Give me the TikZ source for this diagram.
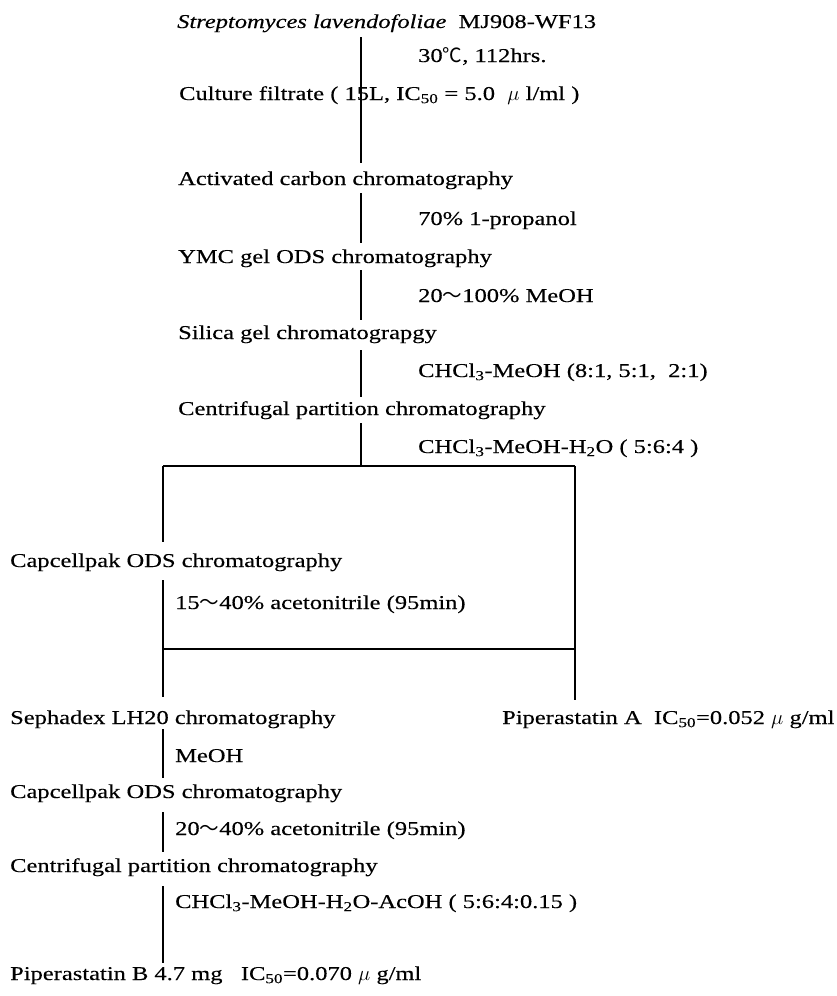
\documentclass[tikz,border=0pt]{standalone}
\usepackage{fontspec}
\setmainfont{Liberation Serif}[FakeStretch=1.25,FakeBold=0.3]
\newfontfamily\cjk{Noto Sans CJK JP}
\begin{document}
\begin{tikzpicture}[x=1pt,y=-1pt,
  txt/.style={anchor=base west,inner sep=0pt,text height=13pt,text depth=4pt,
    font=\fontsize{19.6}{24}\selectfont},
  ln/.style={line width=1.4pt,black}]
\useasboundingbox (0,0) rectangle (836,996);
% upper column
\node[txt] (strep) at (177,28) {\textit{Streptomyces lavendofoliae}\ \ MJ908-WF13};
\node[txt] (c1) at (418,62) {30{\cjk ℃}, 112hrs.};
\node[txt] (cf) at (179,100) {Culture filtrate ( 15L, IC\textsubscript{50} = 5.0 \ $\mu$ l/ml )};
\node[txt] (act) at (178,185) {Activated carbon chromatography};
\node[txt] (c2) at (418,225) {70\% 1-propanol};
\node[txt] (ymc) at (178,263) {YMC gel ODS chromatography};
\node[txt] (c3) at (418,302) {20{\cjk ～}100\% MeOH};
\node[txt] (sil) at (178,339) {Silica gel chromatograpgy};
\node[txt] (c4) at (418,377) {CHCl\textsubscript{3}-MeOH (8:1, 5:1, \ 2:1)};
\node[txt] (cpc) at (178,415) {Centrifugal partition chromatography};
\node[txt] (c5) at (418,453) {CHCl\textsubscript{3}-MeOH-H\textsubscript{2}O ( 5:6:4 )};
% lower part
\node[txt] (cap1) at (10,567) {Capcellpak ODS chromatography};
\node[txt] (c6) at (175,609) {15{\cjk ～}40\% acetonitrile (95min)};
\node[txt] (seph) at (10,724) {Sephadex LH20 chromatography};
\node[txt] (pipa) at (502,724) {Piperastatin A\ \ IC\textsubscript{50}=0.052 $\mu$ g/ml};
\node[txt] (c7) at (175,762) {MeOH};
\node[txt] (cap2) at (10,798) {Capcellpak ODS chromatography};
\node[txt] (c8) at (175,835) {20{\cjk ～}40\% acetonitrile (95min)};
\node[txt] (cpc2) at (10,872) {Centrifugal partition chromatography};
\node[txt] (c9) at (175,908) {CHCl\textsubscript{3}-MeOH-H\textsubscript{2}O-AcOH ( 5:6:4:0.15 )};
\node[txt] (pipb) at (10,980) {Piperastatin B 4.7 mg\ \ \ IC\textsubscript{50}=0.070 $\mu$ g/ml};
% junction coordinates
\coordinate (sp) at (361,0);
\coordinate (jt) at (361,466);
\coordinate (tl) at (163,466);
\coordinate (tr) at (575,466);
\coordinate (ml) at (163,649);
\coordinate (mr) at (575,649);
% spine
\draw[ln,shorten <=5pt,shorten >=9pt] (strep.south -| sp) -- (act.north -| sp);
\draw[ln,shorten <=4pt,shorten >=7pt] (act.south -| sp) -- (ymc.north -| sp);
\draw[ln,shorten <=3pt,shorten >=6pt] (ymc.south -| sp) -- (sil.north -| sp);
\draw[ln,shorten <=7pt,shorten >=5pt] (sil.south -| sp) -- (cpc.north -| sp);
\draw[ln,shorten <=4pt] (cpc.south -| sp) -- (jt);
% box
\draw[ln] (tl) -- (tr);
\draw[ln] (ml) -- (mr);
\draw[ln,shorten >=12pt] (tl) -- (cap1.north -| tl);
\draw[ln,shorten <=9pt,shorten >=14pt] (cap1.south -| tl) -- (seph.north -| tl);
\draw[ln,shorten >=11pt] (tr) -- (pipa.north -| tr);
% lower chain
\draw[ln,shorten <=1pt,shorten >=7pt] (seph.south -| tl) -- (cap2.north -| tl);
\draw[ln,shorten <=10pt,shorten >=7pt] (cap2.south -| tl) -- (cpc2.north -| tl);
\draw[ln,shorten <=10pt,shorten >=4pt] (cpc2.south -| tl) -- (pipb.north -| tl);
\end{tikzpicture}
\end{document}
